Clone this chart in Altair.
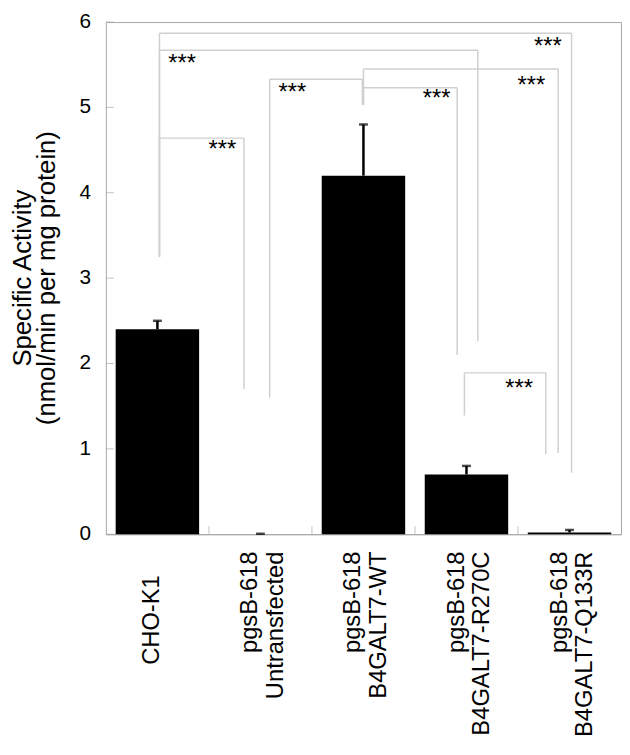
import altair as alt
import pandas as pd

# ---- data ----
categories = ["CHO-K1", "pgsB-618 Untransfected", "pgsB-618 B4GALT7-WT",
              "pgsB-618 B4GALT7-R270C", "pgsB-618 B4GALT7-Q133R"]
values = [2.40, 0.0, 4.20, 0.70, 0.02]
errors = [0.10, 0.005, 0.60, 0.10, 0.03]

# significance brackets (x in band units 0..5, y in data units)
br_x_left = [0.52, 0.52, 0.52, 1.59, 2.50, 2.50, 3.48]
br_x_right = [4.52, 3.61, 1.34, 2.49, 4.39, 3.41, 4.27]
br_y_top = [5.87, 5.67, 4.64, 5.33, 5.45, 5.23, 1.89]
br_y_left_bottom = [3.25, 3.25, 3.25, 1.60, 5.03, 5.03, 1.39]
br_y_right_bottom = [0.72, 2.26, 1.70, 5.03, 0.95, 2.10, 0.94]
star_x = [4.29, 0.74, 1.13, 1.81, 4.13, 3.21, 4.01]
star_y = [5.72, 5.52, 4.51, 5.18, 5.26, 5.11, 1.71]
star_text = ["***"] * 7

y_ticks = [0, 1, 2, 3, 4, 5, 6]
y_tick_labels = ["0", "1", "2", "3", "4", "5", "6"]
x_boundaries = [1, 2, 3, 4]
y_title_lines = ["Specific Activity", "(nmol/min per mg protein)"]

# ---- tables ----
bars = pd.DataFrame({"cat": categories, "val": values,
                     "hi": [v + e for v, e in zip(values, errors)]})

seg_rows = []
for xl, xr, yt, ylb, yrb in zip(br_x_left, br_x_right, br_y_top,
                                br_y_left_bottom, br_y_right_bottom):
    seg_rows.append({"x1": xl, "x2": xr, "y1": yt, "y2": yt})
    seg_rows.append({"x1": xl, "x2": xl, "y1": ylb, "y2": yt})
    seg_rows.append({"x1": xr, "x2": xr, "y1": yrb, "y2": yt})
segs = pd.DataFrame(seg_rows)
stars = pd.DataFrame({"x": star_x, "y": star_y, "t": star_text})
yt_df = pd.DataFrame({"y": y_ticks, "lab": y_tick_labels})
xb_df = pd.DataFrame({"x": x_boundaries})
t1_df = pd.DataFrame({"t": [y_title_lines[0]]})
t2_df = pd.DataFrame({"t": [y_title_lines[1]]})

FONT = "Liberation Sans"
W, H = 521, 518
frame_col = "#a8a8a8"
br_col = "#d0d0d0"

yscale = alt.Scale(domain=[0, 6], nice=False, zero=True)
qx = alt.Scale(domain=[0, 5], nice=False, zero=False)

xband = alt.X("cat:N", sort=categories,
              scale=alt.Scale(paddingInner=0.19, paddingOuter=0.095),
              axis=alt.Axis(title=None, labelAngle=-90, labelAlign="right",
                            labelBaseline="middle", ticks=False,
                            labelExpr="split(datum.label, ' ')",
                            labelPadding={"expr": "datum.value == 'CHO-K1' ? 41 : 17"},
                            labelOffset={"expr": "datum.value == 'CHO-K1' ? -5 : -10"},
                            labelFontSize=24, labelLineHeight=26,
                            labelFont=FONT, labelColor="black",
                            domainColor=frame_col, labelLimit=400))

# quantitative-x part: brackets, stars, inward ticks, y labels and title
ytick_layer = alt.Chart(yt_df).mark_tick(color=frame_col, thickness=1, size=8,
                                         orient="horizontal").encode(
    x=alt.value(4), y=alt.Y("y:Q", scale=yscale, axis=None))
ylab_layer = alt.Chart(yt_df).mark_text(font=FONT, fontSize=21, color="black",
                                        align="right", baseline="middle").encode(
    x=alt.value(-15), y=alt.Y("y:Q", scale=yscale, axis=None), text="lab:N")
t1_layer = alt.Chart(t1_df).mark_text(font=FONT, fontSize=26, color="black",
                                      angle=270, align="center",
                                      baseline="middle").encode(
    x=alt.value(-84), y=alt.value(H / 2), text="t:N")
t2_layer = alt.Chart(t2_df).mark_text(font=FONT, fontSize=26, color="black",
                                      angle=270, align="center",
                                      baseline="middle").encode(
    x=alt.value(-59), y=alt.value(H / 2), text="t:N")
seg_layer = alt.Chart(segs).mark_rule(color=br_col, strokeWidth=1.5).encode(
    x=alt.X("x1:Q", scale=qx, axis=None), x2="x2:Q",
    y=alt.Y("y1:Q", scale=yscale, axis=None), y2="y2:Q")
star_layer = alt.Chart(stars).mark_text(font=FONT, fontSize=24, color="black",
                                        align="center", baseline="alphabetic",
                                        dy=8).encode(
    x=alt.X("x:Q", scale=qx, axis=None),
    y=alt.Y("y:Q", scale=yscale, axis=None), text="t:N")
xtick_layer = alt.Chart(xb_df).mark_tick(color=frame_col, thickness=1, size=8,
                                         orient="vertical").encode(
    x=alt.X("x:Q", scale=qx, axis=None), y=alt.value(H - 4))

q_part = alt.layer(seg_layer, ytick_layer, xtick_layer, star_layer,
                   ylab_layer, t1_layer, t2_layer)

# band part: bars and error bars
bar_layer = alt.Chart(bars).mark_bar(color="black").encode(
    x=xband, y=alt.Y("val:Q", scale=yscale, axis=None))
err_rule = alt.Chart(bars).mark_rule(color="black", strokeWidth=2.5).encode(
    x=xband, y=alt.Y("val:Q", scale=yscale, axis=None), y2="hi:Q")
err_cap = alt.Chart(bars).mark_tick(color="black", thickness=2.5, size=9,
                                    orient="horizontal").encode(
    x=xband, y=alt.Y("hi:Q", scale=yscale, axis=None))

band_part = alt.layer(bar_layer, err_rule, err_cap)

chart = alt.layer(q_part, band_part).resolve_scale(x="independent").properties(
    width=W, height=H,
    autosize=alt.AutoSizeParams(type="none"),
    padding={"left": 99, "top": 10, "right": 1, "bottom": 209},
).configure_view(stroke=frame_col, strokeWidth=1).configure_axis(grid=False)

chart.save("out.html", embed_options={"renderer": "svg", "actions": False})
